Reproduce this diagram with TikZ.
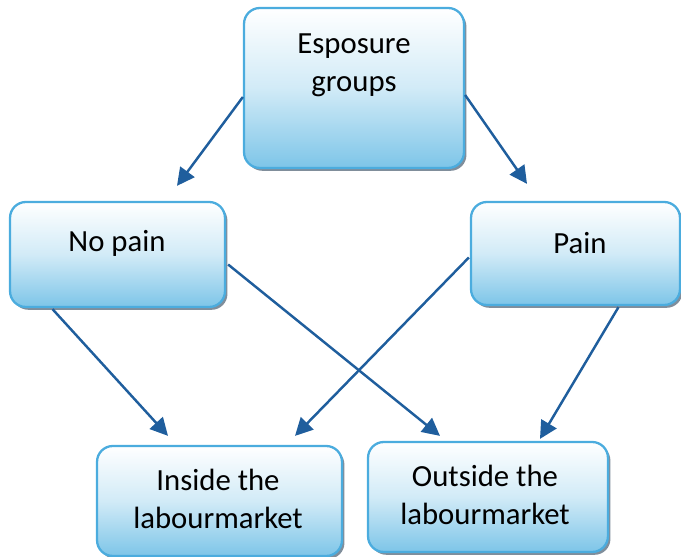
\documentclass[tikz,border=0pt]{standalone}
\usepackage{fontspec}
\setmainfont{Carlito}
\usetikzlibrary{positioning,arrows.meta,shadows,calc}

\definecolor{boxline}{RGB}{75,172,222}
\definecolor{boxfill}{RGB}{125,197,232}
\definecolor{boxshadow}{RGB}{128,142,155}
\definecolor{arrowblue}{RGB}{31,94,157}

\begin{document}
\begin{tikzpicture}[x=0.02cm,y=-0.02cm]
	\tikzset{groupbox/.style={draw=boxline,line width=1.3pt,rounded corners=9pt,
			top color=white,bottom color=boxfill,middle color=boxfill!35!white,
			drop shadow={shadow xshift=1.4pt,shadow yshift=-1.6pt,fill=boxshadow,opacity=1}},
		boxtext/.style={align=center,font=\fontsize{17.5}{21.5}\selectfont,inner sep=0pt},
		flow/.style={draw=arrowblue,line width=1.4pt,-{Triangle[length=10pt,width=10pt]}}}
	\useasboundingbox (0,0) rectangle (681,557);

	%% Boxes
	\node[groupbox,minimum width=4.4cm,minimum height=3.2cm] (expo) at (354,88) {};
	\node[groupbox,minimum width=4.3cm,minimum height=2.1cm] (nopain) at (117.5,254.5) {};
	\node[groupbox,minimum width=4.18cm,minimum height=2.06cm] (pain) at (575.5,253.5) {};
	\node[groupbox,minimum width=4.9cm,minimum height=2.2cm] (inside) at (219.5,501) {};
	\node[groupbox,minimum width=4.8cm,minimum height=2.2cm] (outside) at (488,497) {};

	%% Texts
	\node[boxtext] (expotxt) at (354,65) {Esposure\\groups};
	\node[boxtext] (nopaintxt) at (117,243) {No pain};
	\node[boxtext] (paintxt) at (580,243) {Pain};
	\node[boxtext] (insidetxt) at (218,499) {Inside the\\labourmarket};
	\node[boxtext] (outsidetxt) at (485,495) {Outside the\\labourmarket};

	%% Arrow tips
	\coordinate (tipnopain) at ($(nopain.north)+(59.5,-15)$);
	\coordinate (tippain) at ($(pain.north)+(-48.5,-17)$);
	\coordinate (tipinA) at ($(inside.north)+(-51.5,-9)$);
	\coordinate (tipinB) at ($(inside.north)+(75.5,-9)$);
	\coordinate (tipoutA) at ($(outside.north)+(-48,-5)$);
	\coordinate (tipoutB) at ($(outside.north)+(52,-2)$);

	%% Arrows
	\draw[flow] ($(expo.west)+(0,9)$) -- (tipnopain);
	\draw[flow] ($(expo.east)+(0,7)$) -- (tippain);
	\draw[flow] ($(nopain.south)+(-65,1)$) -- (tipinA);
	\draw[flow] ($(nopain.east)+(2,10)$) -- (tipoutA);
	\draw[flow] ($(pain.west)+(-1,4)$) -- (tipinB);
	\draw[flow] ($(pain.south)+(43,1)$) -- (tipoutB);
\end{tikzpicture}
\end{document}
